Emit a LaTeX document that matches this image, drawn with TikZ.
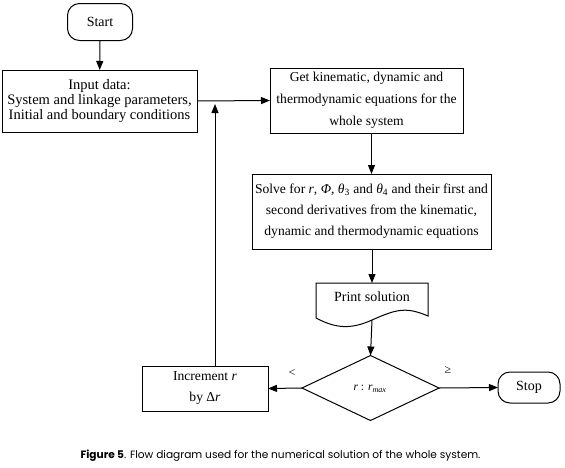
\documentclass[tikz,border=0pt]{standalone}
\usepackage{fontspec}
\setmainfont{Liberation Serif}
\newfontfamily\capfont{Poppins}
\usetikzlibrary{arrows.meta,shapes.geometric}
\begin{document}
\begin{tikzpicture}[x=1pt,y=-1pt,
  every node/.style={inner sep=0pt,outer sep=0pt},
  box/.style={draw,line width=1pt,rectangle,align=center},
  term/.style={draw,line width=1pt,rectangle,rounded corners=12pt,font=\fontsize{14}{16}\selectfont},
  txt/.style={font=\fontsize{13.6}{22}\selectfont,align=center},
  arr/.style={line width=1pt,-{Triangle[length=9pt,width=7pt]}},
  ln/.style={line width=1pt}]
\useasboundingbox (0,0) rectangle (565,467);
\node[term,minimum width=65pt,minimum height=37pt] (start) at (100,22) {Start};
\node[box,minimum width=195pt,minimum height=62pt,font=\fontsize{14.5}{15}\selectfont] (input) at (99.5,101)
  {Input data:\\System and linkage parameters,\\Initial and boundary conditions};
\node[box,txt,minimum width=193pt,minimum height=65pt] (get) at (366.5,100.5)
  {Get kinematic, dynamic and\\thermodynamic equations for the\\whole system};
\node[box,txt,font=\fontsize{13.6}{21}\selectfont,minimum width=239pt,minimum height=75pt] (solve) at (371.5,211.5)
  {Solve for \textit{r}, \textit{Φ}, \textit{θ}\textsubscript{3} and \textit{θ}\textsubscript{4} and their first and\\second derivatives from the kinematic,\\dynamic and thermodynamic equations};
\node[font=\fontsize{14}{16}\selectfont] (print) at (372,297) {Print solution};
\draw[ln] (316,318) -- (316,283) -- (428,283) -- (428,316)
  .. controls (405,306) and (395,310) .. (372,320)
  .. controls (350,330) and (335,328) .. (316,318);
\coordinate (pbot) at (372,320);
\node[draw,line width=1pt,diamond,minimum width=137pt,minimum height=65pt] (dec) at (370.5,388) {};
\node[font=\fontsize{11.5}{13}\selectfont] (declab) at (370,389) {\textit{r} : \textit{r}\textsubscript{\textit{max}}};
\node[box,txt,font=\fontsize{13.6}{21}\selectfont,minimum width=126pt,minimum height=45pt] (inc) at (205,388.5)
  {Increment \textit{r}\\by Δ\textit{r}};
\node[term,minimum width=62pt,minimum height=31pt] (stop) at (529,387.5) {Stop};
\node[font=\fontsize{12}{14}\selectfont] (lt) at (292,373) {<};
\node[font=\fontsize{12}{14}\selectfont] (ge) at (448,370) {≥};
\coordinate (join) at (215,102);
\coordinate (fbstart) at (215,366);
\draw[arr] (start) -- (input);
\draw[arr] (input.east) -- (get.west);
\draw[arr] (get.south -| solve.north) -- (solve.north);
\draw[arr] (solve.south -| pbot) -- (print.north |- 0,283);
\draw[arr] (pbot) -- (dec.north);
\draw[arr] (dec.west) -- (inc.east);
\draw[arr] (dec.east) -- (stop.west);
\draw[arr,shorten >=2pt] (fbstart) -- (join);
\node[font=\capfont\fontsize{10.6}{12}\selectfont] (cap) at (280.5,456)
  {\textbf{Figure 5}. Flow diagram used for the numerical solution of the whole system.};
\end{tikzpicture}
\end{document}
